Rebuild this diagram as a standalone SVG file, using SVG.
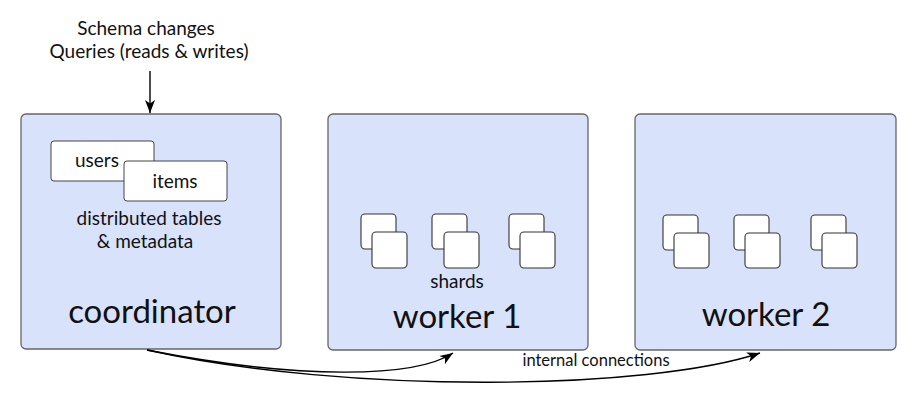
<svg xmlns="http://www.w3.org/2000/svg" width="913" height="405" viewBox="0 0 913 405">
<style>
  text { font-family: Lato, "Open Sans", "Liberation Sans", sans-serif; fill: #111; text-anchor: middle; }
  .node { fill: #d9e2fb; stroke: #666; stroke-width: 1.3; }
  .tbl { fill: #fff; stroke: #444; stroke-width: 1; }
  .sh { fill: #fff; stroke: #333; stroke-width: 1.1; }
  .conn { fill: none; stroke: #000; stroke-width: 1.4; }
  .big { font-size: 33px; }
  .mid { font-size: 19px; }
  .sm { font-size: 16.5px; }
</style>
<defs>
  <marker id="ah" markerWidth="14" markerHeight="12" refX="13" refY="6" orient="auto" markerUnits="userSpaceOnUse">
    <path d="M0,1 L13,6 L0,11 L3.5,6 z" fill="#000"/>
  </marker>
</defs>

<g id="input-label">
  <text class="mid" x="146" y="35">Schema changes</text>
  <text class="mid" x="149" y="58">Queries (reads &amp; writes)</text>
</g>

<g id="coordinator">
  <rect class="node" x="21" y="114" width="260" height="235" rx="5"/>
  <rect class="tbl" x="51" y="141" width="103" height="40" rx="3"/>
  <text class="mid" x="97" y="167">users</text>
  <rect class="tbl" x="124" y="161" width="103" height="40" rx="3"/>
  <text class="mid" x="175" y="188">items</text>
  <text class="mid" x="149" y="225">distributed tables</text>
  <text class="mid" x="145" y="248">&amp; metadata</text>
  <text class="big" x="152" y="323">coordinator</text>
</g>

<g id="worker1">
  <rect class="node" x="328" y="114" width="260" height="236" rx="5"/>
  <rect class="sh" x="361" y="214" width="35" height="35" rx="4"/>
  <rect class="sh" x="372" y="232" width="35" height="36" rx="4"/>
  <rect class="sh" x="432" y="214" width="35" height="35" rx="4"/>
  <rect class="sh" x="444" y="232" width="35" height="36" rx="4"/>
  <rect class="sh" x="509" y="214" width="35" height="35" rx="4"/>
  <rect class="sh" x="520" y="232" width="35" height="36" rx="4"/>
  <text class="mid" x="457" y="288">shards</text>
  <text class="big" x="457" y="328">worker 1</text>
</g>

<g id="worker2">
  <rect class="node" x="635" y="114" width="261" height="236" rx="5"/>
  <rect class="sh" x="663" y="215" width="35" height="35" rx="4"/>
  <rect class="sh" x="674" y="233" width="35" height="35" rx="4"/>
  <rect class="sh" x="734" y="215" width="35" height="35" rx="4"/>
  <rect class="sh" x="745" y="233" width="35" height="35" rx="4"/>
  <rect class="sh" x="811" y="215" width="35" height="35" rx="4"/>
  <rect class="sh" x="822" y="233" width="35" height="35" rx="4"/>
  <text class="big" x="766" y="326">worker 2</text>
</g>

<g id="connectors">
  <line class="conn" x1="150" y1="71" x2="150" y2="113" marker-end="url(#ah)"/>
  <path class="conn" d="M147,350 C300,380 415,378 453,353" marker-end="url(#ah)"/>
  <path class="conn" d="M147,350 C350,395 650,390 760,353" marker-end="url(#ah)"/>
  <text class="sm" x="596" y="366">internal connections</text>
</g>
</svg>
